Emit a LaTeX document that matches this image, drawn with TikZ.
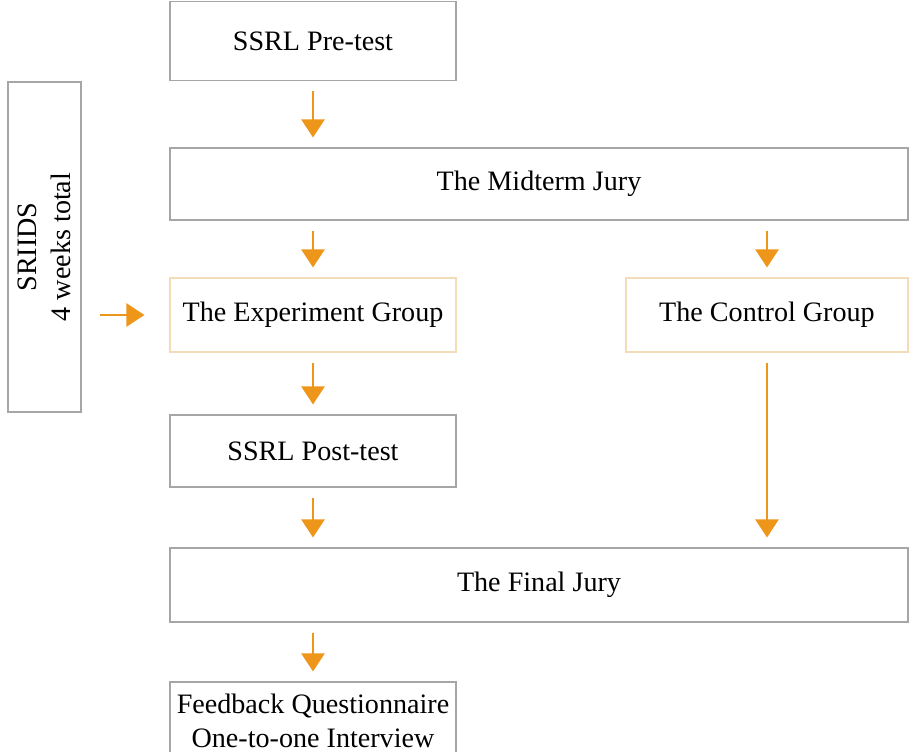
\documentclass[tikz,border=0pt]{standalone}
\usepackage{fontspec}
\setmainfont{Liberation Serif}
\usetikzlibrary{positioning,arrows.meta}
\definecolor{flowgold}{HTML}{EE961A}
\definecolor{boxgray}{HTML}{A6A6A6}
\definecolor{boxtan}{HTML}{F2DDB8}
\tikzset{
  flowarrow/.style={-{Triangle[length=3.6mm, width=4.6mm]}, line width=1.4pt, draw=flowgold, fill=flowgold, shorten <=0.2cm, shorten >=0.2cm},
  stagebox/.style={draw=boxgray, line width=0.6pt, fill=white, minimum width=5.72cm, minimum height=1.46cm, align=center, font=\fontsize{16}{19.5}\selectfont},
  widebox/.style={stagebox, minimum width=14.76cm},
  groupbox/.style={stagebox, draw=boxtan}
}

\begin{document}
\begin{tikzpicture}
      \useasboundingbox (0,0) rectangle (18.2,-15.04);
      \node[stagebox, minimum height=1.58cm] (pre) at (6.26,-0.82) {SSRL Pre-test};
      \node[widebox, minimum height=1.44cm] (mid) at (10.78,-3.68) {The Midterm Jury};
      \node[groupbox, minimum height=1.48cm] (exp) at (6.26,-6.30) {The Experiment Group};
      \node[groupbox, minimum width=5.64cm, minimum height=1.48cm] (ctrl) at (15.34,-6.30) {The Control Group};
      \node[stagebox, minimum height=1.44cm] (post) at (6.26,-9.02) {SSRL Post-test};
      \node[widebox, minimum height=1.48cm] (final) at (10.78,-11.70) {The Final Jury};
      \node[stagebox, minimum height=1.56cm] (fb) at (6.26,-14.42) {Feedback Questionnaire\\One-to-one Interview};
      \node[stagebox, rotate=90, minimum width=6.6cm, minimum height=1.46cm] (sriids) at (0.89,-4.94) {SRIIDS\\4 weeks total};
      \coordinate (wk) at (2.0,-6.30);

      \draw[flowarrow] (pre) -- (pre |- mid.north);
      \draw[flowarrow] (mid.south -| exp) -- (exp);
      \draw[flowarrow] (mid.south -| ctrl) -- (ctrl);
      \draw[flowarrow, shorten <=0pt, shorten >=0.5cm] (wk) -- (exp);
      \draw[flowarrow] (exp) -- (post);
      \draw[flowarrow] (post) -- (post |- final.north);
      \draw[flowarrow] (ctrl) -- (ctrl |- final.north);
      \draw[flowarrow] (final.south -| fb) -- (fb);
    \end{tikzpicture}
\end{document}
